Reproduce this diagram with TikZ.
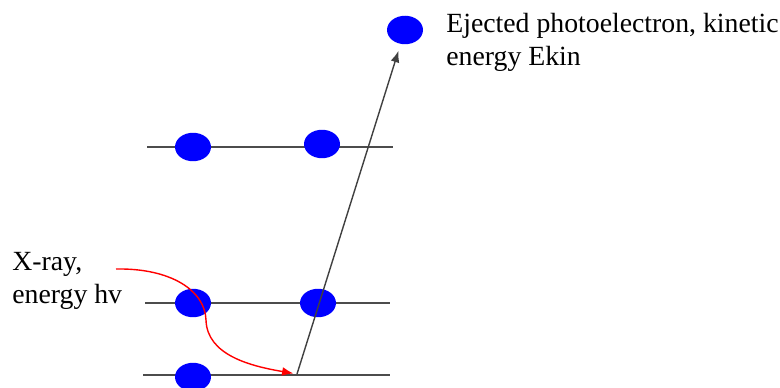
\documentclass[tikz,border=0pt]{standalone}
\usepackage{fontspec}
\setmainfont{Liberation Serif}
\newfontfamily\labelfont{Liberation Serif}
\usetikzlibrary{shapes.geometric, arrows.meta}

\begin{document}
\begin{tikzpicture}[>={Latex[length=6.5pt, width=5pt]}, x=0.02cm, y=-0.02cm,
    electron/.style={ellipse, fill=blue, inner sep=0pt, minimum width=0.72cm, minimum height=0.57cm},
    level/.style={draw=black!70, line width=0.8pt},
    label/.style={anchor=north west, inner sep=0pt, align=left, font=\labelfont\fontsize{15.8}{19}\selectfont}]

    \useasboundingbox (0,0) rectangle (780,388);

    % Energy levels
    \draw[level] (147,147) -- (393,147);
    \draw[level] (145,303) -- (390,303);
    \draw[level] (143,375) -- (390,375);

    % Electrons
    \node[electron] (top1) at (193,147) {};
    \node[electron] (top2) at (322,144) {};
    \node[electron] (mid1) at (193,303) {};
    \node[electron] (mid2) at (318,303) {};
    \node[electron] (low1) at (193,377) {};
    \node[electron] (eject) at (405,30) {};

    % Points of the photon path
    \coordinate (xray) at (116,269);
    \coordinate (bend) at (206,320);
    \coordinate (exc) at (297,374);

    % Photon
    \draw[->, red, line width=0.8pt, shorten >=2pt] (xray)
        .. controls (170,268) and (205,290) .. (bend)
        .. controls (207,355) and (250,366) .. (exc);

    % Photoelectron
    \draw[->, black!75, line width=0.8pt, shorten >=4pt] (exc) -- (eject);

    % Labels
    \node[label] (xlabel) at (12,252) {X-ray,\\energy hv};
    \node[label] (elabel) at (446,13) {Ejected photoelectron, kinetic\\energy Ekin};

\end{tikzpicture}
\end{document}
